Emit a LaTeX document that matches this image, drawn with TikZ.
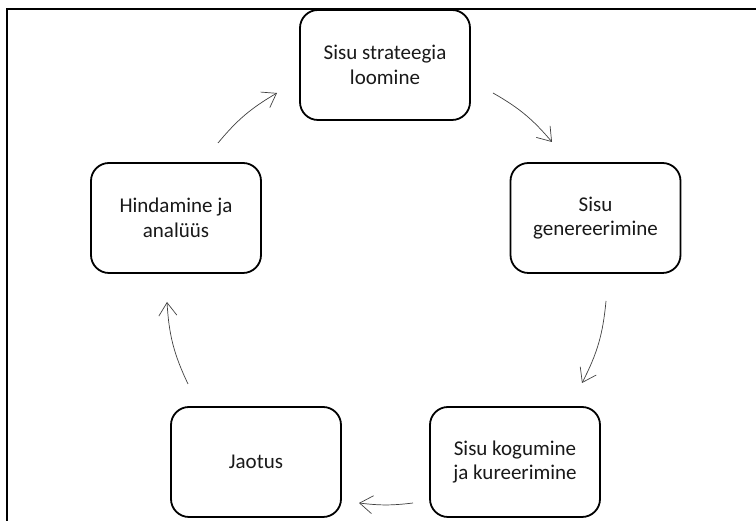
\documentclass[tikz,border=0pt]{standalone}
\usepackage{fontspec}
\setmainfont{Carlito}
\usetikzlibrary{arrows.meta,positioning}

\begin{document}
\begin{tikzpicture}[x=1pt,y=1pt,
    stage/.style={draw=black,fill=white,line width=1.8pt,rounded corners=18pt,
      minimum width=170pt,minimum height=110pt,align=center,
      font=\fontsize{21}{24.5}\selectfont,text=black!90},
    cyc/.style={-{Straight Barb[length=13pt,width=18pt]},line width=0.7pt,draw=black!75}]
  \useasboundingbox (0,0) rectangle (756,521);
  \draw[line width=1.2pt] (7,0) -- (7,512) -- (756,512);
  % stages of the cycle
  \node[stage] (strat) at (385,456) {Sisu strateegia\\loomine};
  \node[stage] (gen) at (595.5,303) {Sisu\\genereerimine};
  \node[stage] (kog) at (515,59) {Sisu kogumine\\ja kureerimine};
  \node[stage] (jaot) at (256,59) {Jaotus};
  \node[stage] (hind) at (176,303) {Hindamine ja\\analüüs};
  % arrow ends
  \coordinate (p1) at (218,378); \coordinate (q1) at (277,428);
  \coordinate (p2) at (493,428); \coordinate (q2) at (552,379);
  \coordinate (p3) at (606,220); \coordinate (q3) at (582,138);
  \coordinate (p4) at (413,18);  \coordinate (q4) at (359,18);
  \coordinate (p5) at (188,137); \coordinate (q5) at (167,219);
  \draw[cyc] (p1) to[bend left=10] (q1);
  \draw[cyc] (p2) to[bend left=10] (q2);
  \draw[cyc] (p3) to[bend left=11] (q3);
  \draw[cyc] (p4) to[bend left=7] (q4);
  \draw[cyc] (p5) to[bend left=11] (q5);
\end{tikzpicture}
\end{document}
